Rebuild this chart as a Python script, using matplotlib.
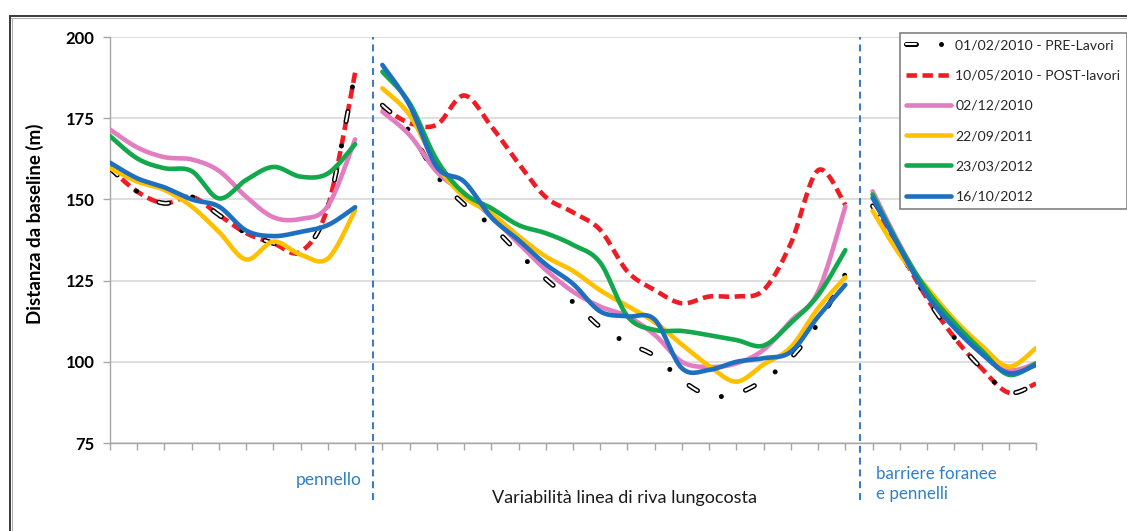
import numpy as np
import matplotlib
matplotlib.use('Agg')
import matplotlib.pyplot as plt
from matplotlib.lines import Line2D
from matplotlib.legend_handler import HandlerTuple

plt.rcParams['font.family'] = ['Lato', 'DejaVu Sans']
plt.rcParams['lines.scale_dashes'] = False

# survey dates shown in the legend
labels = ['01/02/2010 - PRE-Lavori', '10/05/2010 - POST-lavori', '02/12/2010',
          '22/09/2011', '23/03/2012', '16/10/2012']

# distance from baseline (m) for each transect along the coast (35 transects)
pre_lavori = [159.6, 152.4, 148.8, 150.8, 145.2, 139.6, 136.5, 133.9, 147.8, 189.0,
              179.0, 171.0, 157.3, 148.5, 141.9, 133.5, 125.5, 118.4, 110.7, 105.8,
              101.8, 94.3, 89.6, 90.2, 94.4, 101.2, 111.9, 127.0,
              148.0, 134.0, 119.5, 107.5, 98.0, 90.5, 93.3]
post_lavori = [159.6, 152.4, 148.8, 150.8, 145.2, 139.6, 136.5, 133.9, 147.8, 189.0,
               178.4, 173.5, 173.0, 182.0, 172.5, 161.1, 150.7, 146.0, 140.6, 127.8,
               122.1, 118.0, 120.1, 120.1, 122.1, 136.5, 159.0, 148.3,
               148.0, 134.0, 119.5, 107.5, 98.0, 90.5, 93.3]
dic_2010 = [171.5, 166.0, 163.0, 162.3, 158.8, 150.8, 144.5, 144.0, 148.0, 168.5,
            177.0, 169.8, 158.5, 151.9, 144.7, 136.5, 128.3, 121.6, 117.0, 114.0,
            108.3, 100.0, 98.4, 99.5, 103.7, 112.6, 121.6, 147.8,
            152.5, 136.0, 121.5, 111.0, 103.5, 97.5, 99.5]
set_2011 = [159.6, 155.5, 152.9, 147.8, 140.0, 131.5, 137.0, 133.0, 131.8, 146.7,
            184.2, 176.0, 160.6, 150.8, 145.7, 138.7, 132.4, 128.0, 122.0, 117.2,
            112.2, 105.3, 98.7, 93.9, 99.2, 104.5, 116.5, 126.0,
            146.5, 133.0, 122.8, 113.0, 105.0, 98.5, 104.2]
mar_2012 = [169.5, 162.6, 159.6, 158.7, 150.3, 156.0, 160.0, 157.0, 158.0, 167.0,
            189.3, 179.6, 162.1, 151.9, 147.3, 142.1, 139.6, 136.0, 130.5, 114.0,
            109.8, 109.5, 108.2, 106.7, 105.0, 112.0, 120.5, 134.4,
            151.5, 135.5, 122.0, 112.0, 103.5, 96.0, 99.5]
ott_2012 = [161.3, 156.5, 153.7, 150.0, 147.8, 140.4, 138.7, 140.0, 142.1, 147.6,
            191.4, 179.0, 160.0, 155.5, 144.5, 137.5, 130.0, 124.0, 115.5, 114.0,
            113.0, 98.0, 97.5, 100.0, 101.1, 103.1, 113.9, 123.7,
            150.5, 135.0, 120.5, 110.5, 102.5, 96.5, 99.0]

# transect index ranges of the three stretches of coast
stretches = [(0, 10), (10, 28), (28, 35)]
# structures separating the stretches (position along the transect axis)
structures = [9.64, 27.53]

transects = np.arange(len(pre_lavori))


def smooth(xs, ys, n=16):
    # Catmull-Rom style bezier smoothing through every point
    x = np.asarray(xs, float)
    y = np.asarray(ys, float)
    px = np.concatenate([[x[0]], x, [x[-1]]])
    py = np.concatenate([[y[0]], y, [y[-1]]])
    t = np.linspace(0, 1, n + 1)[1:, None]
    out = [np.array([[x[0], y[0]]])]
    for k in range(1, len(x)):
        p0 = np.array([px[k - 1], py[k - 1]])
        p1 = np.array([px[k], py[k]])
        p2 = np.array([px[k + 1], py[k + 1]])
        p3 = np.array([px[k + 2], py[k + 2]])
        c1 = p1 + (p2 - p0) / 6
        c2 = p2 - (p3 - p1) / 6
        seg = ((1 - t) ** 3) * p1 + 3 * ((1 - t) ** 2) * t * c1 \
            + 3 * (1 - t) * t ** 2 * c2 + t ** 3 * p2
        out.append(seg)
    pts = np.vstack(out)
    return pts[:, 0], pts[:, 1]


def draw_series(ax, values, **kw):
    handle = None
    for a, b in stretches:
        xs, ys = smooth(transects[a:b], values[a:b])
        handle, = ax.plot(xs, ys, **kw)
    return handle


fig = plt.figure(figsize=(11.27, 5.31), dpi=100)
ax = fig.add_axes([110 / 1127, 1 - 443 / 531, 926 / 1127, 406 / 531])

# frame around the whole picture
fig.add_artist(Line2D([10 / 1127, 1.0], [1 - 16 / 531] * 2, color='#3a3a3a', lw=1.4))
fig.add_artist(Line2D([10 / 1127, 1.0], [1 - 18 / 531] * 2, color='#b0b0b0', lw=0.8))
fig.add_artist(Line2D([10 / 1127] * 2, [0.0, 1 - 16 / 531], color='#3a3a3a', lw=1.4))
fig.add_artist(Line2D([12 / 1127] * 2, [0.0, 1 - 18 / 531], color='#b0b0b0', lw=0.8))

lw = 3.3
red = draw_series(ax, post_lavori, color='#EE1C25', lw=lw,
                  linestyle=(0, (7.5, 4.0)), dash_capstyle='butt', zorder=3)
blk_out = draw_series(ax, pre_lavori, color='black', lw=3.6,
                      linestyle=(0, (7.2, 18.0, 0.01, 18.0)),
                      dash_capstyle='round', zorder=4)
blk_in = draw_series(ax, pre_lavori, color='white', lw=1.5,
                     linestyle=(0, (7.2, 36.01)),
                     dash_capstyle='round', zorder=4)
pink = draw_series(ax, dic_2010, color='#E37DC1', lw=lw, zorder=5,
                   solid_capstyle='round')
yellow = draw_series(ax, set_2011, color='#FFC000', lw=lw, zorder=6,
                     solid_capstyle='round')
green = draw_series(ax, mar_2012, color='#12A84B', lw=lw, zorder=7,
                    solid_capstyle='round')
blue = draw_series(ax, ott_2012, color='#1F6FBF', lw=lw, zorder=8,
                   solid_capstyle='round')

for xs in structures:
    ax.axvline(xs, ymin=-0.14, ymax=1.0, color='#3D7CC4', lw=1.5,
               linestyle=(0, (5.0, 3.5)), clip_on=False, zorder=2)

ax.set_xlim(0, 34)
ax.set_ylim(75, 200)
ax.set_yticks(np.arange(75, 201, 25))
ax.set_xticks(transects)
ax.set_xticklabels([])
ax.grid(axis='y', color='#d9d9d9', lw=1.2)
ax.set_axisbelow(True)
for side in ['top', 'right']:
    ax.spines[side].set_visible(False)
for side in ['left', 'bottom']:
    ax.spines[side].set_color('#a6a6a6')
    ax.spines[side].set_linewidth(1.0)
ax.tick_params(axis='both', direction='out', length=5, width=1.0,
               color='#a6a6a6')
ax.tick_params(axis='y', labelsize=12, pad=6)
for lab in ax.get_yticklabels():
    lab.set_fontweight('bold')

ax.set_ylabel('Distanza da baseline (m)', fontsize=13.5, fontweight='bold')
ax.yaxis.set_label_coords(-0.071, 0.54)

trans = ax.get_xaxis_transform()
ax.text(9.25, -0.091, 'pennello', transform=trans, ha='right', va='center',
        fontsize=12.5, color='#2E80C8')
ax.text(28.12, -0.102, 'barriere foranee\ne pennelli', transform=trans,
        ha='left', va='center', fontsize=12.2, color='#2E80C8', linespacing=1.3)
ax.text(18.9, -0.135, 'Variabilità linea di riva lungocosta', transform=trans,
        ha='center', va='center', fontsize=13, color='#1a1a1a')

handles = [(blk_out, blk_in), red, pink, yellow, green, blue]
leg = fig.legend(handles, labels, loc='upper left',
                 bbox_to_anchor=(900 / 1127, 1 - 33 / 531),
                 bbox_transform=fig.transFigure, borderaxespad=0,
                 handler_map={tuple: HandlerTuple(ndivide=1)},
                 fontsize=10.1, handlelength=3.2, handletextpad=0.3,
                 labelspacing=1.3, borderpad=0.45, fancybox=False,
                 framealpha=1, edgecolor='#808080')
leg.get_frame().set_linewidth(1.2)
for txt in leg.get_texts():
    txt.set_color('#262626')

fig.savefig('out.png', dpi=100)
